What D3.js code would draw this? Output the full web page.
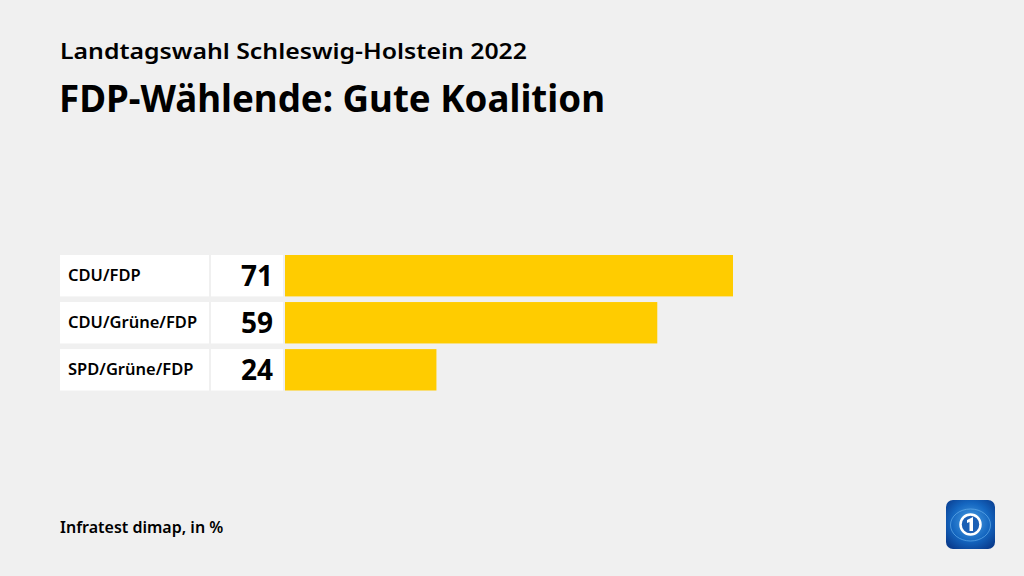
<!DOCTYPE html>
<html><head><meta charset="utf-8">
<script src="https://cdn.jsdelivr.net/npm/d3@7"></script>
<style>
html,body{margin:0;padding:0;background:#f0f0f0;}
svg{display:block;font-family:"Noto Sans","Open Sans",sans-serif;}
</style></head><body>
<svg id="c" width="1024" height="576"></svg>
<script>
const categories = ["CDU/FDP", "CDU/Grüne/FDP", "SPD/Grüne/FDP"];
const values = [71, 59, 24];
const subtitle = "Landtagswahl Schleswig-Holstein 2022";
const title = "FDP-Wählende: Gute Koalition";
const source = "Infratest dimap, in %";

const svg = d3.select("#c");
svg.append("rect").attr("width",1024).attr("height",576).attr("fill","#f0f0f0");

svg.append("text").attr("x",60).attr("y",59).attr("font-size",22).attr("font-weight",600)
  .attr("fill","#000").text(subtitle).attr("textLength",467).attr("lengthAdjust","spacingAndGlyphs");
svg.append("text").attr("x",59).attr("y",112).attr("font-size",37).attr("font-weight",700)
  .attr("fill","#000").text(title).attr("textLength",546).attr("lengthAdjust","spacingAndGlyphs");

const x = d3.scaleLinear().domain([0,71]).range([285,733]);
const y = d3.scaleBand().domain(categories).range([255,390.5]).paddingInner(0.12).paddingOuter(0);

const g = svg.append("g");
const rows = g.selectAll("g.row").data(categories.map((c,i)=>({c,v:values[i]}))).join("g");
rows.append("rect").attr("x",60).attr("y",d=>y(d.c)).attr("width",149).attr("height",y.bandwidth()).attr("fill","#fff");
rows.append("rect").attr("x",211).attr("y",d=>y(d.c)).attr("width",72).attr("height",y.bandwidth()).attr("fill","#fff");
rows.append("rect").attr("x",x(0)).attr("y",d=>y(d.c)).attr("width",d=>x(d.v)-x(0)).attr("height",y.bandwidth()).attr("fill","#ffcc00");
rows.append("text").attr("x",68).attr("y",d=>y(d.c)+y.bandwidth()/2+5.5).attr("font-size",16.5).attr("font-weight",600)
  .attr("fill","#000").text(d=>d.c);
rows.append("text").attr("x",273).attr("y",d=>y(d.c)+y.bandwidth()/2+10).attr("text-anchor","end").attr("font-size",28).attr("font-weight",700)
  .attr("fill","#000").text(d=>d.v);

svg.append("text").attr("x",60).attr("y",533).attr("font-size",16).attr("font-weight",600).attr("fill","#000").text(source);

// logo
const lg = svg.append("g").attr("transform","translate(946,500)");
const grad = svg.append("defs").append("radialGradient").attr("id","lgrad").attr("cx","50%").attr("cy","45%").attr("r","65%");
grad.append("stop").attr("offset","0%").attr("stop-color","#4fa3e6");
grad.append("stop").attr("offset","60%").attr("stop-color","#1466c0");
grad.append("stop").attr("offset","100%").attr("stop-color","#0a3d8f");
lg.append("rect").attr("width",49).attr("height",49).attr("rx",7).attr("fill","url(#lgrad)");
lg.append("ellipse").attr("cx",24.5).attr("cy",25).attr("rx",20).attr("ry",16).attr("fill","none").attr("stroke","#6fb8f0").attr("stroke-width",1).attr("opacity",0.6);
lg.append("circle").attr("cx",24.5).attr("cy",24.5).attr("r",10).attr("fill","#1b5fb5").attr("stroke","#fff").attr("stroke-width",2.5);
lg.append("path").attr("d","M21,20 L27,17 L27,31 L23.5,31 L23.5,22 L21,23 Z").attr("fill","#fff");
</script>
</body></html>
